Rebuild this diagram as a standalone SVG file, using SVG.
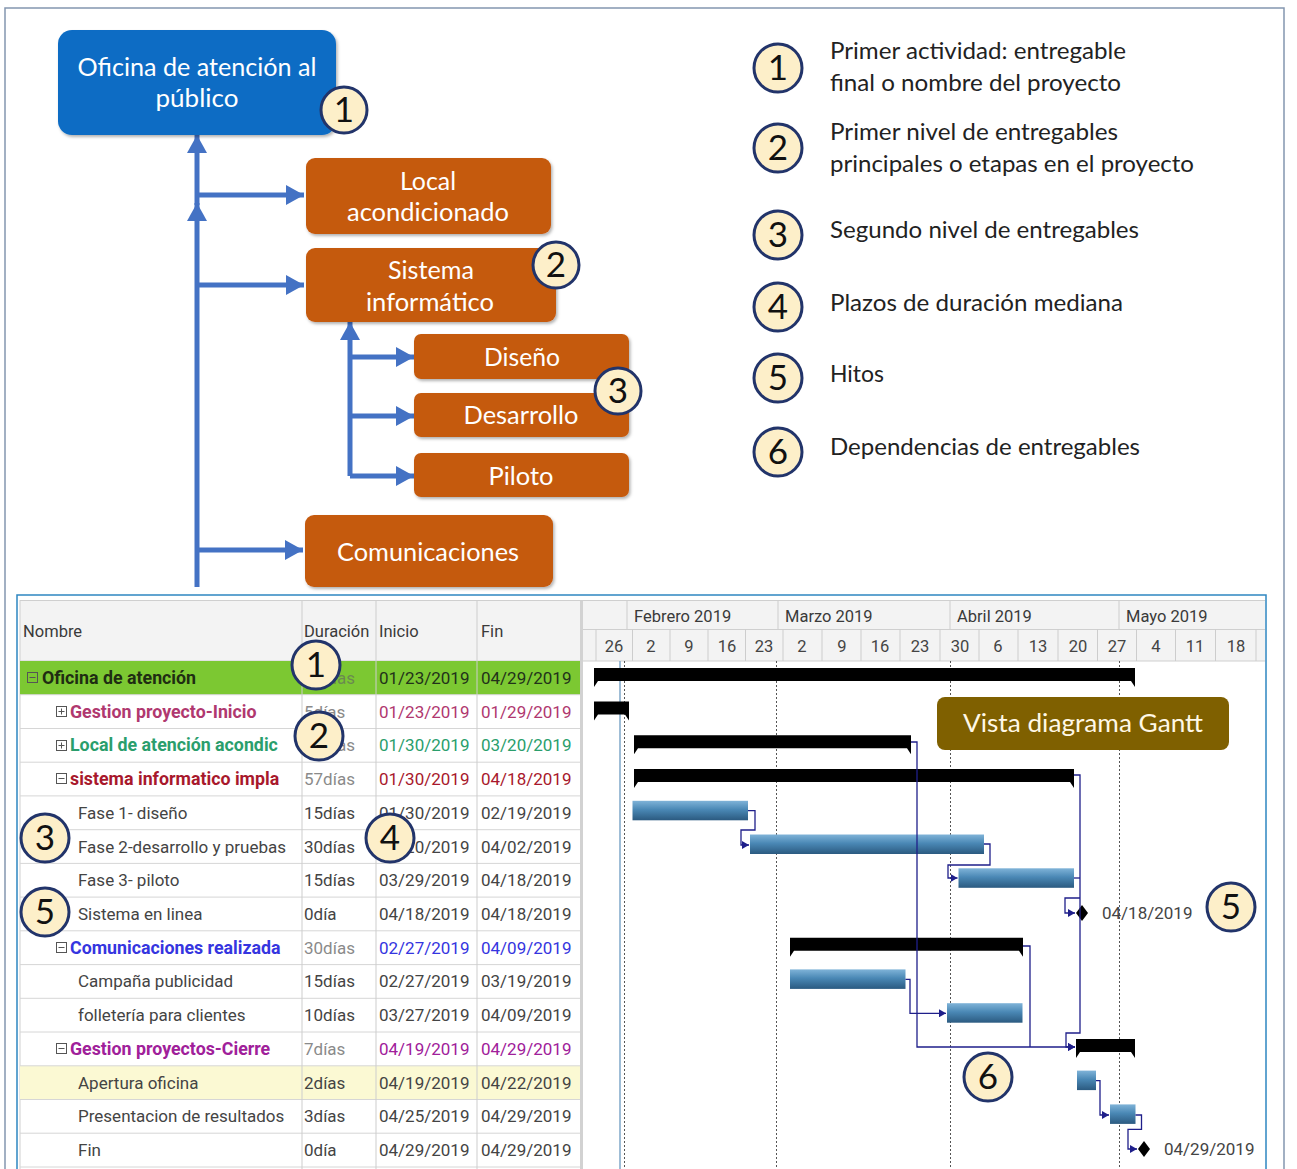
<svg xmlns="http://www.w3.org/2000/svg" width="1297" height="1169" viewBox="0 0 1297 1169">
  <style>
    .tree { font-family: Lato, "Open Sans", sans-serif; font-size: 25px; fill: #fff; text-anchor: middle; }
    .leg { font-family: Lato, "Open Sans", sans-serif; font-size: 22.5px; fill: #222; }
    .badge circle { fill: #fdefc9; stroke: #22346a; stroke-width: 3; }
    .badge text { font-family: Lato, "Open Sans", sans-serif; font-size: 35px; fill: #111; text-anchor: middle; }
    .tb { font-family: Roboto, "Liberation Sans", sans-serif; font-size: 17px; fill: #444; }
    .hd { font-family: Roboto, "Liberation Sans", sans-serif; font-size: 16.5px; fill: #3a3a3a; }
    .wk { font-family: Roboto, "Liberation Sans", sans-serif; font-size: 16.5px; fill: #444; text-anchor: middle; }
    .grp { font-weight: bold; font-size: 17.8px; }
    .gray { fill: #8a8a8a; }
    .node-blue { fill: #0f6cc4; }
    .node-orange { fill: #c55a11; }
    .branch { stroke: #4472c4; stroke-width: 5; fill: none; marker-end: url(#ah); }
    .dep { stroke: #1f1f8a; stroke-width: 1.3; fill: none; }
    .depa { stroke: #1f1f8a; stroke-width: 1.3; fill: none; marker-end: url(#ga); }
    .sum { fill: #000; }
    .task { fill: url(#tg); }
    .rowline { stroke: #d6d6d6; stroke-width: 1; }
    .colline { stroke: #cdcdcd; stroke-width: 1; }
    .month { stroke: #555; stroke-width: 1; stroke-dasharray: 2 2; }
  </style>
  <defs>
    <marker id="ah" markerUnits="userSpaceOnUse" markerWidth="20" markerHeight="22" refX="18" refY="10" orient="auto">
      <path d="M0,0 L18,10 L0,20 Z" fill="#4472c4"/>
    </marker>
    <marker id="ga" markerUnits="userSpaceOnUse" markerWidth="8" markerHeight="8" refX="7" refY="4" orient="auto">
      <path d="M0,0 L7,4 L0,8 Z" fill="#1f1f8a"/>
    </marker>
    <linearGradient id="tg" x1="0" y1="0" x2="0" y2="1">
      <stop offset="0" stop-color="#7fb3d8"/>
      <stop offset="0.45" stop-color="#4a88b5"/>
      <stop offset="1" stop-color="#2b5a80"/>
    </linearGradient>
    <filter id="sh" x="-10%" y="-10%" width="125%" height="135%">
      <feDropShadow dx="1.5" dy="2" stdDeviation="1.5" flood-color="#000" flood-opacity="0.3"/>
    </filter>
    <clipPath id="namecol">
      <rect x="20" y="661" width="280" height="508"/>
    </clipPath>
  </defs>

  <rect width="1297" height="1169" fill="#fff"/>
  <!-- outer frame -->
  <path d="M5,1169 V8 H1284 V1169" fill="none" stroke="#8496b0" stroke-width="1.5"/>

  <!-- tree connectors -->
  <g id="tree-connectors">
    <line class="branch" x1="197" y1="587" x2="197" y2="203"/>
    <line class="branch" x1="197" y1="205" x2="197" y2="135"/>
    <line class="branch" x1="197" y1="195" x2="304" y2="195"/>
    <line class="branch" x1="197" y1="285" x2="304" y2="285"/>
    <line class="branch" x1="197" y1="550" x2="303" y2="550"/>
    <line class="branch" x1="350" y1="476" x2="350" y2="322"/>
    <line class="branch" x1="350" y1="357" x2="414" y2="357"/>
    <line class="branch" x1="350" y1="416" x2="414" y2="416"/>
    <line class="branch" x1="350" y1="476" x2="414" y2="476"/>
  </g>

  <!-- tree nodes -->
  <g id="n-oficina">
    <rect class="node-blue" x="58" y="30" width="278" height="105" rx="14" filter="url(#sh)"/>
    <text class="tree" x="197" y="76" font-size="26" textLength="239" lengthAdjust="spacingAndGlyphs">Oficina de atención al</text>
    <text class="tree" x="197" y="107" font-size="26" textLength="83" lengthAdjust="spacingAndGlyphs">público</text>
  </g>
  <g id="n-local">
    <rect class="node-orange" x="306" y="158" width="245" height="76" rx="9" filter="url(#sh)"/>
    <text class="tree" x="428" y="190" textLength="56" lengthAdjust="spacingAndGlyphs">Local</text>
    <text class="tree" x="428" y="221" textLength="162" lengthAdjust="spacingAndGlyphs">acondicionado</text>
  </g>
  <g id="n-sistema">
    <rect class="node-orange" x="306" y="248" width="250" height="74" rx="9" filter="url(#sh)"/>
    <text class="tree" x="431" y="279" textLength="86" lengthAdjust="spacingAndGlyphs">Sistema</text>
    <text class="tree" x="430" y="311" textLength="128" lengthAdjust="spacingAndGlyphs">informático</text>
  </g>
  <g id="n-diseno">
    <rect class="node-orange" x="414" y="334" width="215" height="45" rx="7" filter="url(#sh)"/>
    <text class="tree" x="522" y="366" textLength="76" lengthAdjust="spacingAndGlyphs">Diseño</text>
  </g>
  <g id="n-desarrollo">
    <rect class="node-orange" x="414" y="393" width="215" height="44" rx="7" filter="url(#sh)"/>
    <text class="tree" x="521" y="424" textLength="115" lengthAdjust="spacingAndGlyphs">Desarrollo</text>
  </g>
  <g id="n-piloto">
    <rect class="node-orange" x="414" y="453" width="215" height="44" rx="7" filter="url(#sh)"/>
    <text class="tree" x="521" y="485" textLength="65" lengthAdjust="spacingAndGlyphs">Piloto</text>
  </g>
  <g id="n-comunicaciones">
    <rect class="node-orange" x="305" y="515" width="248" height="72" rx="9" filter="url(#sh)"/>
    <text class="tree" x="428" y="561" textLength="182" lengthAdjust="spacingAndGlyphs">Comunicaciones</text>
  </g>
  <g class="badge" id="b-tree-1"><circle cx="344" cy="110" r="23"/><text x="344" y="122">1</text></g>
  <g class="badge" id="b-tree-2"><circle cx="556" cy="265" r="23"/><text x="556" y="277">2</text></g>
  <g class="badge" id="b-tree-3"><circle cx="618" cy="391" r="23"/><text x="618" y="403">3</text></g>

  <!-- legend -->
  <g id="legend">
    <g class="badge"><circle cx="778" cy="68" r="24"/><text x="778" y="80">1</text></g>
    <g class="badge"><circle cx="778" cy="148" r="24"/><text x="778" y="160">2</text></g>
    <g class="badge"><circle cx="778" cy="235" r="24"/><text x="778" y="247">3</text></g>
    <g class="badge"><circle cx="778" cy="307" r="24"/><text x="778" y="319">4</text></g>
    <g class="badge"><circle cx="778" cy="378" r="24"/><text x="778" y="390">5</text></g>
    <g class="badge"><circle cx="778" cy="452" r="24"/><text x="778" y="464">6</text></g>
    <text class="leg" x="830" y="59" textLength="296" lengthAdjust="spacingAndGlyphs">Primer actividad: entregable</text>
    <text class="leg" x="830" y="91" textLength="291" lengthAdjust="spacingAndGlyphs">final o nombre del proyecto</text>
    <text class="leg" x="830" y="140" textLength="288" lengthAdjust="spacingAndGlyphs">Primer nivel de entregables</text>
    <text class="leg" x="830" y="172" textLength="364" lengthAdjust="spacingAndGlyphs">principales o etapas en el proyecto</text>
    <text class="leg" x="830" y="238" textLength="309" lengthAdjust="spacingAndGlyphs">Segundo nivel de entregables</text>
    <text class="leg" x="830" y="311" textLength="293" lengthAdjust="spacingAndGlyphs">Plazos de duración mediana</text>
    <text class="leg" x="830" y="382" textLength="54" lengthAdjust="spacingAndGlyphs">Hitos</text>
    <text class="leg" x="830" y="455" textLength="310" lengthAdjust="spacingAndGlyphs">Dependencias de entregables</text>
  </g>

  <!-- project grid panel -->
  <g id="grid-panel">
    <rect x="17" y="595" width="1249" height="580" fill="#fff" stroke="#2e86c1" stroke-width="1.5"/>
    <!-- headers -->
    <rect x="20" y="601" width="560" height="60" fill="#f3f3f3"/>
    <rect x="583" y="601" width="682" height="60" fill="#f3f3f3"/>
    <line x1="20" y1="600.5" x2="1265" y2="600.5" stroke="#cfcfcf"/>
    <line x1="20" y1="661" x2="580" y2="661" stroke="#cfcfcf"/>
    <line x1="583" y1="661" x2="1265" y2="661" stroke="#cfcfcf"/>
    <line x1="20" y1="600" x2="20" y2="1169" stroke="#cfcfcf"/>
    <text class="hd" x="23" y="637">Nombre</text>
    <text class="hd" x="304" y="637">Duración</text>
    <text class="hd" x="379" y="637">Inicio</text>
    <text class="hd" x="481" y="637">Fin</text>

    <!-- row backgrounds -->
    <rect x="20" y="661" width="560" height="33.7" fill="#7cc832"/>
    <rect x="20" y="1065.8" width="560" height="33.7" fill="#fbf9d3"/>

    <!-- row separators -->
    <g class="rowline">
      <line x1="20" y1="694.7" x2="580" y2="694.7"/>
      <line x1="20" y1="728.5" x2="580" y2="728.5"/>
      <line x1="20" y1="762.2" x2="580" y2="762.2"/>
      <line x1="20" y1="795.9" x2="580" y2="795.9"/>
      <line x1="20" y1="829.7" x2="580" y2="829.7"/>
      <line x1="20" y1="863.4" x2="580" y2="863.4"/>
      <line x1="20" y1="897.1" x2="580" y2="897.1"/>
      <line x1="20" y1="930.8" x2="580" y2="930.8"/>
      <line x1="20" y1="964.6" x2="580" y2="964.6"/>
      <line x1="20" y1="998.3" x2="580" y2="998.3"/>
      <line x1="20" y1="1032" x2="580" y2="1032"/>
      <line x1="20" y1="1065.8" x2="580" y2="1065.8"/>
      <line x1="20" y1="1099.5" x2="580" y2="1099.5"/>
      <line x1="20" y1="1133.2" x2="580" y2="1133.2"/>
      <line x1="20" y1="1167" x2="580" y2="1167"/>
    </g>
    <g class="colline">
      <line x1="302" y1="601" x2="302" y2="1169"/>
      <line x1="376" y1="601" x2="376" y2="1169"/>
      <line x1="477" y1="601" x2="477" y2="1169"/>
    </g>
    <rect x="580" y="601" width="3" height="568" fill="#d2d2d2"/>

    <!-- expand / collapse boxes -->
    <g fill="#fff" stroke="#555" stroke-width="1">
      <rect x="27.5" y="672.5" width="10" height="10" fill="none"/>
      <rect x="56.5" y="706.5" width="10" height="10"/>
      <rect x="56.5" y="740.5" width="10" height="10"/>
      <rect x="56.5" y="773.5" width="10" height="10"/>
      <rect x="56.5" y="942.5" width="10" height="10"/>
      <rect x="56.5" y="1043.5" width="10" height="10"/>
      <path d="M29.5,677.5 H35.5 M58.5,711.5 H64.5 M61.5,708.5 V714.5 M58.5,745.5 H64.5 M61.5,742.5 V748.5 M58.5,778.5 H64.5 M58.5,947.5 H64.5 M58.5,1048.5 H64.5" fill="none"/>
    </g>

    <!-- name column -->
    <g clip-path="url(#namecol)" class="tb">
      <text x="42" y="684" class="grp" fill="#1f2d12">Oficina de atención</text>
      <text x="70" y="717.6" class="grp" fill="#b0386f">Gestion proyecto-Inicio</text>
      <text x="70" y="751.3" class="grp" fill="#2a9e6c">Local de atención acondic</text>
      <text x="70" y="785.1" class="grp" fill="#a8182c">sistema informatico impla</text>
      <text x="78" y="818.8">Fase 1- diseño</text>
      <text x="78" y="852.5">Fase 2-desarrollo y pruebas</text>
      <text x="78" y="886.3">Fase 3- piloto</text>
      <text x="78" y="920">Sistema en linea</text>
      <text x="70" y="953.7" class="grp" fill="#3535e0">Comunicaciones realizada</text>
      <text x="78" y="987.4">Campaña publicidad</text>
      <text x="78" y="1021.2">folletería para clientes</text>
      <text x="70" y="1054.9" class="grp" fill="#a0209a">Gestion proyectos-Cierre</text>
      <text x="78" y="1088.6">Apertura oficina</text>
      <text x="78" y="1122.4">Presentacion de resultados</text>
      <text x="78" y="1156.1">Fin</text>
    </g>
    <!-- duration column -->
    <g class="tb">
      <text x="304" y="684" fill="#6a8a50">69días</text>
      <text x="304" y="717.6" class="gray">5días</text>
      <text x="304" y="751.3" class="gray">36días</text>
      <text x="304" y="785.1" class="gray">57días</text>
      <text x="304" y="818.8">15días</text>
      <text x="304" y="852.5">30días</text>
      <text x="304" y="886.3">15días</text>
      <text x="304" y="920">0día</text>
      <text x="304" y="953.7" class="gray">30días</text>
      <text x="304" y="987.4">15días</text>
      <text x="304" y="1021.2">10días</text>
      <text x="304" y="1054.9" class="gray">7días</text>
      <text x="304" y="1088.6">2días</text>
      <text x="304" y="1122.4">3días</text>
      <text x="304" y="1156.1">0día</text>
    </g>
    <!-- start / end columns -->
    <g class="tb">
      <text x="379" y="684" fill="#22321a">01/23/2019</text><text x="481" y="684" fill="#22321a">04/29/2019</text>
      <text x="379" y="717.6" fill="#b0386f">01/23/2019</text><text x="481" y="717.6" fill="#b0386f">01/29/2019</text>
      <text x="379" y="751.3" fill="#2a9e6c">01/30/2019</text><text x="481" y="751.3" fill="#2a9e6c">03/20/2019</text>
      <text x="379" y="785.1" fill="#a8182c">01/30/2019</text><text x="481" y="785.1" fill="#a8182c">04/18/2019</text>
      <text x="379" y="818.8">01/30/2019</text><text x="481" y="818.8">02/19/2019</text>
      <text x="379" y="852.5">02/20/2019</text><text x="481" y="852.5">04/02/2019</text>
      <text x="379" y="886.3">03/29/2019</text><text x="481" y="886.3">04/18/2019</text>
      <text x="379" y="920">04/18/2019</text><text x="481" y="920">04/18/2019</text>
      <text x="379" y="953.7" fill="#3535e0">02/27/2019</text><text x="481" y="953.7" fill="#3535e0">04/09/2019</text>
      <text x="379" y="987.4">02/27/2019</text><text x="481" y="987.4">03/19/2019</text>
      <text x="379" y="1021.2">03/27/2019</text><text x="481" y="1021.2">04/09/2019</text>
      <text x="379" y="1054.9" fill="#a0209a">04/19/2019</text><text x="481" y="1054.9" fill="#a0209a">04/29/2019</text>
      <text x="379" y="1088.6">04/19/2019</text><text x="481" y="1088.6">04/22/2019</text>
      <text x="379" y="1122.4">04/25/2019</text><text x="481" y="1122.4">04/29/2019</text>
      <text x="379" y="1156.1">04/29/2019</text><text x="481" y="1156.1">04/29/2019</text>
    </g>

    <!-- timeline header -->
    <line x1="583" y1="629.5" x2="1265" y2="629.5" stroke="#cfcfcf"/>
    <g class="colline">
      <line x1="627" y1="601" x2="627" y2="629"/>
      <line x1="778" y1="601" x2="778" y2="629"/>
      <line x1="950" y1="601" x2="950" y2="629"/>
      <line x1="1119" y1="601" x2="1119" y2="629"/>
      <line x1="596" y1="629" x2="596" y2="661"/>
      <line x1="632.5" y1="629" x2="632.5" y2="661"/>
      <line x1="670" y1="629" x2="670" y2="661"/>
      <line x1="708" y1="629" x2="708" y2="661"/>
      <line x1="745.5" y1="629" x2="745.5" y2="661"/>
      <line x1="783" y1="629" x2="783" y2="661"/>
      <line x1="822" y1="629" x2="822" y2="661"/>
      <line x1="861" y1="629" x2="861" y2="661"/>
      <line x1="900" y1="629" x2="900" y2="661"/>
      <line x1="940" y1="629" x2="940" y2="661"/>
      <line x1="979" y1="629" x2="979" y2="661"/>
      <line x1="1018" y1="629" x2="1018" y2="661"/>
      <line x1="1058" y1="629" x2="1058" y2="661"/>
      <line x1="1097.5" y1="629" x2="1097.5" y2="661"/>
      <line x1="1136.5" y1="629" x2="1136.5" y2="661"/>
      <line x1="1175.5" y1="629" x2="1175.5" y2="661"/>
      <line x1="1215.5" y1="629" x2="1215.5" y2="661"/>
      <line x1="1256" y1="629" x2="1256" y2="661"/>
    </g>
    <g class="hd">
      <text x="634" y="622">Febrero 2019</text>
      <text x="785" y="622">Marzo 2019</text>
      <text x="957" y="622">Abril 2019</text>
      <text x="1126" y="622">Mayo 2019</text>
    </g>
    <g class="wk">
      <text x="614" y="652">26</text>
      <text x="651" y="652">2</text>
      <text x="689" y="652">9</text>
      <text x="727" y="652">16</text>
      <text x="764" y="652">23</text>
      <text x="802" y="652">2</text>
      <text x="842" y="652">9</text>
      <text x="880" y="652">16</text>
      <text x="920" y="652">23</text>
      <text x="960" y="652">30</text>
      <text x="998" y="652">6</text>
      <text x="1038" y="652">13</text>
      <text x="1078" y="652">20</text>
      <text x="1117" y="652">27</text>
      <text x="1156" y="652">4</text>
      <text x="1195" y="652">11</text>
      <text x="1236" y="652">18</text>
    </g>

    <!-- timeline body guides -->
    <line x1="620" y1="661" x2="620" y2="1169" stroke="#7fa7c9" stroke-width="1.5"/>
    <g class="month">
      <line x1="624.5" y1="661" x2="624.5" y2="1169"/>
      <line x1="776.5" y1="661" x2="776.5" y2="1169"/>
      <line x1="950.5" y1="661" x2="950.5" y2="1169"/>
      <line x1="1119.5" y1="661" x2="1119.5" y2="1169"/>
    </g>
  </g>

  <!-- schedule bars -->
  <g id="bars">
    <path class="sum" d="M594,668 H1135 V687 L1131,681 H598 L594,687 Z"/>
    <path class="sum" d="M594,701.6 H629 V720.6 L625,714.6 H598 L594,720.6 Z"/>
    <path class="sum" d="M634,735.3 H911 V754.3 L907,748.3 H638 L634,754.3 Z"/>
    <path class="sum" d="M634,769.1 H1074 V788.1 L1070,782.1 H638 L634,788.1 Z"/>
    <path class="sum" d="M790,937.7 H1023 V956.7 L1019,950.7 H794 L790,956.7 Z"/>
    <path class="sum" d="M1076,1038.9 H1135 V1057.9 L1131,1051.9 H1080 L1076,1057.9 Z"/>
    <rect class="task" x="632.5" y="800.8" width="115.5" height="19.5"/>
    <rect class="task" x="750" y="834.5" width="234" height="19.5"/>
    <rect class="task" x="958.5" y="868.3" width="115.5" height="19.5"/>
    <rect class="task" x="790" y="969.4" width="115.5" height="19.5"/>
    <rect class="task" x="947" y="1003.2" width="75.5" height="19.5"/>
    <rect class="task" x="1077" y="1070.6" width="19" height="19.5"/>
    <rect class="task" x="1110" y="1104.4" width="25.5" height="19.5"/>
    <path d="M1082,905 L1088,913 L1082,921 L1076,913 Z" fill="#000"/>
    <path d="M1144,1141 L1150,1149 L1144,1157 L1138,1149 Z" fill="#000"/>
    <text class="tb" x="1102" y="919" fill="#777">04/18/2019</text>
    <text class="tb" x="1164" y="1155" fill="#777">04/29/2019</text>
  </g>

  <!-- dependency links -->
  <g id="dependencies">
    <path class="depa" d="M911,742 H917 V1047 H1075"/>
    <path class="depa" d="M1074,775 H1080 V1033 H1066 V1047 H1075"/>
    <path class="dep" d="M1023,946 H1030 V1047"/>
    <path class="depa" d="M748,810.7 H755 V830 H741 V845 H749"/>
    <path class="depa" d="M984,844 H990 V865 H948 V878 H957.5"/>
    <path class="dep" d="M1074,878 H1080"/>
    <path class="depa" d="M1080,898 H1065 V913 H1075"/>
    <path class="depa" d="M905.5,979.3 H910 V1013.3 H946"/>
    <path class="depa" d="M1096,1080.7 H1100 V1115 H1109"/>
    <path class="depa" d="M1135.5,1115 H1141.5 V1129.3 H1128 V1149 H1137"/>
  </g>

  <!-- caption box -->
  <g id="n-vista">
    <rect x="937" y="697" width="292" height="53" rx="8" fill="#7f6000"/>
    <text x="1083" y="732" font-family="Lato, 'Open Sans', sans-serif" font-size="25" fill="#fff8e6" text-anchor="middle" textLength="240" lengthAdjust="spacingAndGlyphs">Vista diagrama Gantt</text>
  </g>

  <!-- numbered callouts on the grid -->
  <g class="badge" id="b-grid-1"><circle cx="316" cy="665" r="24"/><text x="316" y="677">1</text></g>
  <g class="badge" id="b-grid-2"><circle cx="319" cy="736" r="24"/><text x="319" y="748">2</text></g>
  <g class="badge" id="b-grid-3"><circle cx="45" cy="838" r="24"/><text x="45" y="850">3</text></g>
  <g class="badge" id="b-grid-4"><circle cx="390" cy="838" r="24"/><text x="390" y="850">4</text></g>
  <g class="badge" id="b-grid-5"><circle cx="45" cy="912" r="24"/><text x="45" y="924">5</text></g>
  <g class="badge" id="b-grid-5b"><circle cx="1231" cy="907" r="24"/><text x="1231" y="919">5</text></g>
  <g class="badge" id="b-grid-6"><circle cx="988" cy="1077" r="24"/><text x="988" y="1089">6</text></g>
</svg>
